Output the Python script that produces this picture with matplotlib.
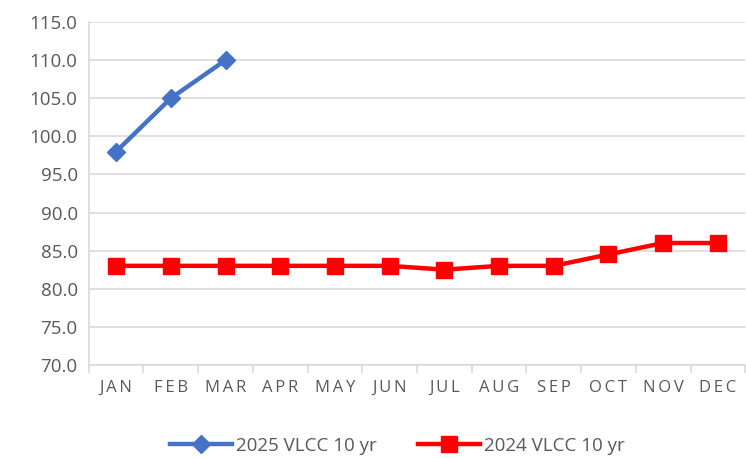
import numpy as np
import matplotlib.pyplot as plt
from matplotlib.ticker import FormatStrFormatter, FixedLocator

months = ['JAN', 'FEB', 'MAR', 'APR', 'MAY', 'JUN',
          'JUL', 'AUG', 'SEP', 'OCT', 'NOV', 'DEC']
vlcc_2025 = [98.0, 105.0, 110.0]
vlcc_2024 = [83.0, 83.0, 83.0, 83.0, 83.0, 83.0,
             82.5, 83.0, 83.0, 84.5, 86.0, 86.0]

plt.rcParams['font.family'] = ['Open Sans', 'DejaVu Sans']
text_col = '#595959'
grid_col = '#D9D9D9'

fig = plt.figure(figsize=(7.46, 4.59), dpi=100)
ax = fig.add_axes([0.119, 0.205, 0.88, 0.747])

x = np.arange(len(months))
ax.plot(x[:len(vlcc_2025)], vlcc_2025, color='#4472C4', lw=3.2,
        marker='D', markersize=9, label='2025 VLCC 10 yr', zorder=3)
ax.plot(x, vlcc_2024, color='#FF0000', lw=3.2,
        marker='s', markersize=11, label='2024 VLCC 10 yr', zorder=3)

ax.set_ylim(70, 115)
ax.set_yticks(np.arange(70, 116, 5))
ax.yaxis.set_major_formatter(FormatStrFormatter('%.1f'))
ax.set_xlim(-0.5, len(months) - 0.5)
ax.set_xticks(x)
# letter-spaced month labels (thin spaces)
ax.set_xticklabels(['\u2009'.join(m) for m in months])
ax.xaxis.set_minor_locator(FixedLocator(np.arange(-0.5, len(months), 1)))

ax.grid(axis='y', color=grid_col, lw=1.2)
ax.set_axisbelow(True)
for s in ['top', 'right']:
    ax.spines[s].set_visible(False)
ax.spines['left'].set_color(grid_col)
ax.spines['bottom'].set_color(grid_col)
ax.spines['left'].set_linewidth(1.2)
ax.spines['bottom'].set_linewidth(1.2)

ax.tick_params(axis='y', length=0, labelsize=13.5, colors=text_col, pad=8)
ax.tick_params(axis='x', which='major', length=0, labelsize=12,
               colors=text_col, pad=11)
ax.tick_params(axis='x', which='minor', length=6, color=grid_col, width=1.2)

ax.legend(loc='upper center', bbox_to_anchor=(0.47, -0.16), ncol=2,
          frameon=False, fontsize=13.5, handlelength=3.3, columnspacing=2.2,
          handletextpad=0.2, labelcolor=text_col)

fig.savefig('out.png')
